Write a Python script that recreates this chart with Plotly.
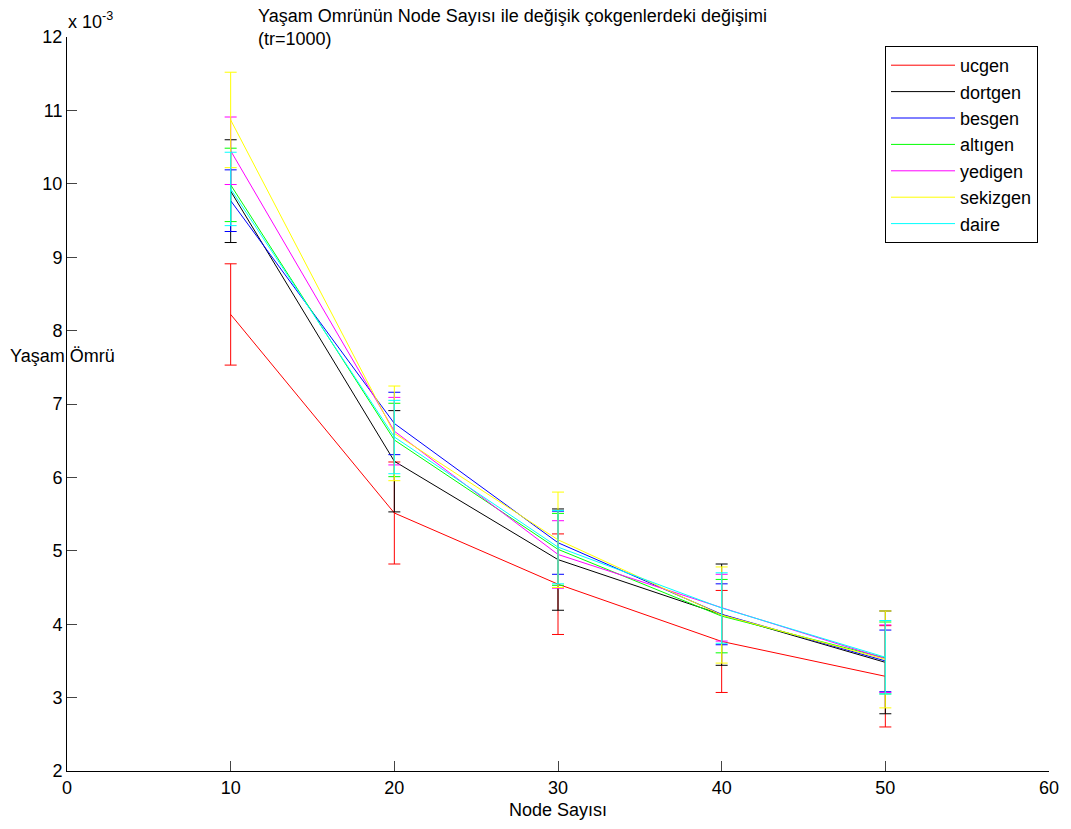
import plotly.graph_objects as go

# Node counts
node_sayisi = [10, 20, 30, 40, 50]

# Mean lifetimes (units of 1e-3) and error half-widths
ucgen = [8.22, 5.515, 4.545, 3.765, 3.29]
ucgen_err = [0.69, 0.695, 0.685, 0.695, 0.69]

dortgen = [9.90, 6.22, 4.88, 4.13, 3.48]
dortgen_err = [0.70, 0.69, 0.69, 0.69, 0.70]

besgen = [9.77, 6.735, 5.11, 4.135, 3.50]
besgen_err = [0.42, 0.425, 0.43, 0.415, 0.42]

altigen = [9.985, 6.51, 5.02, 4.11, 3.54]
altigen_err = [0.50, 0.50, 0.49, 0.50, 0.49]

yedigen = [10.45, 6.63, 4.95, 4.225, 3.53]
yedigen_err = [0.46, 0.46, 0.46, 0.455, 0.46]

sekizgen = [10.87, 6.60, 5.15, 4.125, 3.52]
sekizgen_err = [0.65, 0.645, 0.65, 0.655, 0.66]

daire = [9.93, 6.55, 5.05, 4.22, 3.55]
daire_err = [0.50, 0.50, 0.50, 0.48, 0.50]

series = [
    ("ucgen", ucgen, ucgen_err, "#ff0000"),
    ("dortgen", dortgen, dortgen_err, "#000000"),
    ("besgen", besgen, besgen_err, "#0000ff"),
    ("altıgen", altigen, altigen_err, "#00ff00"),
    ("yedigen", yedigen, yedigen_err, "#ff00ff"),
    ("sekizgen", sekizgen, sekizgen_err, "#ffff00"),
    ("daire", daire, daire_err, "#00ffff"),
]

x_ticks = [0, 10, 20, 30, 40, 50, 60]
y_ticks = [2, 3, 4, 5, 6, 7, 8, 9, 10, 11, 12]

FONT = "Liberation Sans, Arial, Helvetica, sans-serif"
FS = 18

fig = go.Figure()
for name, vals, errs, col in series:
    fig.add_trace(go.Scatter(
        x=node_sayisi, y=vals, name=name, mode="lines",
        line=dict(color=col, width=1),
        error_y=dict(type="data", array=errs, visible=True,
                     color=col, thickness=1, width=6),
    ))

# page body has an 8px margin, so the figure is shrunk by 8px and margins shifted
OFF = 8
W, H = 1071 - OFF, 829 - OFF
L, R, T, B = 67 - OFF, 22, 37 - OFF, 58
pw, ph = W - L - R, H - T - B


def px_x(p):  # page pixel x -> paper
    return (p - OFF - L) / pw


def px_y(p):  # page pixel y -> paper
    return (H - B - (p - OFF)) / ph


fig.update_layout(
    width=W, height=H,
    margin=dict(l=L, r=R, t=T, b=B, autoexpand=False),
    paper_bgcolor="white", plot_bgcolor="white",
    font=dict(family=FONT, size=FS, color="black"),
    showlegend=True,
    legend=dict(
        x=px_x(885), y=px_y(46),
        xanchor="left", yanchor="top",
        bordercolor="black", borderwidth=1, bgcolor="white",
        font=dict(size=FS, family=FONT),
        tracegroupgap=0, itemwidth=64,
    ),
    xaxis=dict(
        range=[0, 60], tickvals=x_ticks, ticks="inside", ticklen=10,
        showline=True, linecolor="black", linewidth=1, mirror=False,
        showgrid=False, zeroline=False, tickfont=dict(size=FS),
        title=dict(text="Node Sayısı", font=dict(size=FS), standoff=6),
    ),
    yaxis=dict(
        range=[2, 12], tickvals=y_ticks, ticks="inside", ticklen=10,
        showline=True, linecolor="black", linewidth=1, mirror=False,
        showgrid=False, zeroline=False, tickfont=dict(size=FS),
    ),
    annotations=[
        dict(text="Yaşam Ömrünün Node Sayısı ile değişik çokgenlerdeki değişimi<br>(tr=1000)",
             xref="paper", yref="paper", x=px_x(256), y=px_y(4),
             xanchor="left", yanchor="top", align="left", showarrow=False,
             font=dict(size=FS)),
        dict(text="x 10<sup>-3</sup>", xref="paper", yref="paper",
             x=px_x(66), y=px_y(20), xanchor="left", yanchor="middle",
             showarrow=False, font=dict(size=FS)),
        dict(text="Yaşam Ömrü", xref="paper", yref="paper",
             x=px_x(8), y=px_y(356), xanchor="left", yanchor="middle",
             showarrow=False, font=dict(size=FS)),
    ],
)

fig.write_html("out.html")
